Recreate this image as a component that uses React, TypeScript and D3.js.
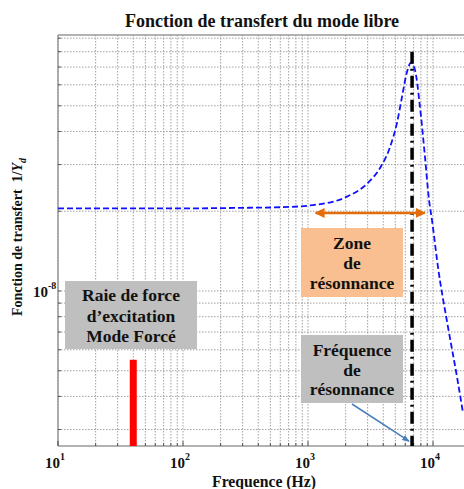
import React from 'react';
import * as d3 from 'd3';

// curve (Hz, 1/Yd)
const freqs = [10, 100, 300, 597, 1096, 2051, 3020, 3767, 4529, 5152, 5649, 6194, 6668, 7178, 7870, 8630, 9290, 9817, 10965, 13183, 15560, 17378];
const transfer = [2.05e-8, 2.05e-8, 2.06e-8, 2.07e-8, 2.11e-8, 2.27e-8, 2.56e-8, 2.91e-8, 3.49e-8, 4.31e-8, 5.4e-8, 6.71e-8, 7.27e-8, 6.82e-8, 4.95e-8, 3.2e-8, 2.21e-8, 1.85e-8, 1.23e-8, 7.31e-9, 4.74e-9, 3.47e-9];

const xTickExps = [1, 2, 3, 4];
const yTickExps = [-8];

const forceFreq = 40;
const forceValue = 5.5e-9;
const resonanceFreq = 6800;
const resonanceTop = 8e-8;
const zoneRange = [1150, 8600];
const zoneValue = 1.97e-8;
const arrowTarget = [6430, 2.71e-9];

const W = 464;
const H = 489;
const margin = { left: 58, top: 35, bottom: 446 };
const serif = '"Liberation Serif", "DejaVu Serif", serif';

const x = d3.scaleLog().domain([10, 20000]).range([margin.left, margin.left + Math.log10(2000) * 125]);
const y = d3.scaleLog().domain([2.6e-9, 9.25e-8]).range([margin.bottom, margin.top]);

const minorX: number[] = [];
for (let e = 1; e <= 4; e++) for (let k = 1; k <= 9; k++) {
  const v = k * Math.pow(10, e);
  if (v >= 10 && v <= 20000) minorX.push(v);
}
const minorY: number[] = [];
for (let e = -9; e <= -8; e++) for (let k = 1; k <= 9; k++) {
  const v = k * Math.pow(10, e);
  if (v >= 2.6e-9 && v <= 9.25e-8) minorY.push(v);
}

const line = d3
  .line<number>()
  .x((_, i) => x(freqs[i]))
  .y((d) => y(d))
  .curve(d3.curveMonotoneX);

const Box = ({ x0, y0, w, h, fill, lines, lh, first }: any) => (
  <g>
    <rect x={x0} y={y0} width={w} height={h} fill={fill} />
    {lines.map((t: string, i: number) => (
      <text key={i} x={x0 + w / 2} y={first + i * lh} textAnchor="middle" fontFamily={serif} fontWeight="bold" fontSize={17.5} fill="#111">
        {t}
      </text>
    ))}
  </g>
);

export default function App() {
  const plotRight = W;
  const ax0 = 352;
  const ay0 = 404;
  const ax1 = x(arrowTarget[0]);
  const ay1 = y(arrowTarget[1]);
  return (
    <svg width={W} height={H} style={{ position: 'absolute', left: 0, top: 0, background: '#fff' }}>
      <defs>
        <clipPath id="plot">
          <rect x={margin.left} y={margin.top} width={plotRight - margin.left} height={margin.bottom - margin.top} />
        </clipPath>
        <marker id="orangeHead" viewBox="0 0 10 10" refX="9" refY="5" markerWidth="4" markerHeight="4" orient="auto-start-reverse">
          <path d="M0,0 L10,5 L0,10 z" fill="#E46C0A" />
        </marker>
        <marker id="blueHead" viewBox="0 0 10 10" refX="9" refY="5" markerWidth="5" markerHeight="5" orient="auto">
          <path d="M0,1 L10,5 L0,9 z" fill="#4A7EBB" />
        </marker>
      </defs>

      <text x={262} y={27} textAnchor="middle" fontFamily={serif} fontWeight="bold" fontSize={18} fill="#111">
        Fonction de transfert du mode libre
      </text>

      {/* grid */}
      <g stroke="#8a8a8a" strokeWidth={0.8} strokeDasharray="1.5,1.5">
        {minorX.map((v) => (
          <line key={'gx' + v} x1={x(v)} x2={x(v)} y1={margin.top} y2={margin.bottom} />
        ))}
        {minorY.map((v) => (
          <line key={'gy' + v} x1={margin.left} x2={plotRight} y1={y(v)} y2={y(v)} />
        ))}
      </g>

      {/* frame */}
      <g stroke="#999" strokeWidth={1.5} fill="none">
        <line x1={margin.left} x2={plotRight} y1={margin.top} y2={margin.top} />
        <line x1={margin.left} x2={margin.left} y1={margin.top} y2={margin.bottom} />
        <line x1={margin.left} x2={plotRight} y1={margin.bottom} y2={margin.bottom} />
      </g>
      <g stroke="#333" strokeWidth={0.8}>
        {minorX.map((v) => (
          <line key={'tx' + v} x1={x(v)} x2={x(v)} y1={margin.bottom} y2={margin.bottom - (Number.isInteger(Math.log10(v)) ? 5 : 3)} />
        ))}
        {minorY.map((v) => (
          <line key={'ty' + v} x1={margin.left} x2={margin.left + 3} y1={y(v)} y2={y(v)} />
        ))}
      </g>

      {/* tick labels */}
      {xTickExps.map((e) => (
        <text key={'xl' + e} x={x(Math.pow(10, e)) - 3} y={468} textAnchor="middle" fontFamily={serif} fontWeight="bold" fontSize={15} fill="#111">
          10
          <tspan dy={-8} fontSize={10}>{e}</tspan>
        </text>
      ))}
      {yTickExps.map((e) => (
        <text key={'yl' + e} x={33} y={y(Math.pow(10, e)) + 6} fontFamily={serif} fontWeight="bold" fontSize={15} fill="#111">
          10
          <tspan dy={-8} fontSize={10}>{e}</tspan>
        </text>
      ))}

      <text x={264} y={487} textAnchor="middle" fontFamily={serif} fontWeight="bold" fontSize={15.7} fill="#111">
        Frequence (Hz)
      </text>
      <text transform={`translate(22,237) rotate(-90)`} textAnchor="middle" fontFamily={serif} fontWeight="bold" fontSize={14} fill="#111">
        Fonction de transfert{'\u00a0\u00a0'}1/
        <tspan fontStyle="italic">Y</tspan>
        <tspan dy={4} fontSize={10} fontStyle="italic">d</tspan>
      </text>

      <g clipPath="url(#plot)">
        <rect x={x(forceFreq) - 3.5} y={y(forceValue)} width={7} height={margin.bottom - y(forceValue)} fill="#FF0000" />
        <path d={line(transfer) || ''} fill="none" stroke="#1010ff" strokeWidth={1.8} strokeDasharray="6,3" />
        <line x1={x(resonanceFreq)} x2={x(resonanceFreq)} y1={y(resonanceTop)} y2={margin.bottom} stroke="#000" strokeWidth={3.5} strokeDasharray="12,5,2,5" />
      </g>

      <line x1={x(zoneRange[0])} x2={x(zoneRange[1])} y1={y(zoneValue)} y2={y(zoneValue)} stroke="#E46C0A" strokeWidth={2.5} markerStart="url(#orangeHead)" markerEnd="url(#orangeHead)" />

      <Box x0={301} y0={228} w={102} h={69} fill="#F9BF90" lines={['Zone', 'de', 'résonnance']} lh={20} first={249} />
      <Box x0={65} y0={281} w={132} h={68} fill="#BFBFBF" lines={['Raie de force', 'd\u2019excitation', 'Mode Forcé']} lh={20.5} first={301} />
      <Box x0={301} y0={335} w={102} h={68} fill="#BFBFBF" lines={['Fréquence', 'de', 'résonnance']} lh={19.5} first={356} />

      <line x1={ax0} y1={ay0} x2={ax1} y2={ay1} stroke="#4A7EBB" strokeWidth={1.5} markerEnd="url(#blueHead)" />
    </svg>
  );
}
